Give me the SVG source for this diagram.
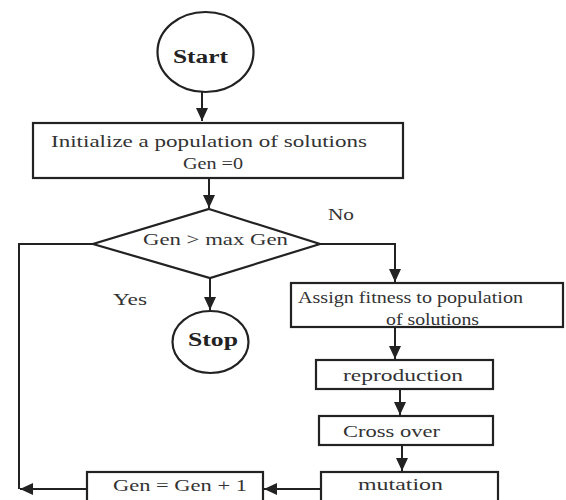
<svg xmlns="http://www.w3.org/2000/svg" width="566" height="500" viewBox="0 0 566 500">
<style>
.shape{fill:#fff;stroke:#222;stroke-width:2.2}
.conn{fill:none;stroke:#222;stroke-width:2}
text{font-family:"Liberation Serif","Times New Roman",serif;font-size:17px;fill:#333}
.b{font-weight:bold;font-size:18px;fill:#222}
</style>
<defs>
<marker id="arr" markerUnits="userSpaceOnUse" markerWidth="14" markerHeight="14" viewBox="0 0 14 14" refX="13" refY="7" orient="auto">
<path d="M0,1 L13,7 L0,13 Z" fill="#222"/>
</marker>
</defs>
<rect width="566" height="500" fill="#fff"/>
<g id="connectors">
<path class="conn" d="M202,92 V121" marker-end="url(#arr)"/>
<path class="conn" d="M209,178 V208" marker-end="url(#arr)"/>
<path class="conn" d="M320,244 H395 V282" marker-end="url(#arr)"/>
<path class="conn" d="M210,278 V310" marker-end="url(#arr)"/>
<path class="conn" d="M395,327 V359" marker-end="url(#arr)"/>
<path class="conn" d="M400,389 V415" marker-end="url(#arr)"/>
<path class="conn" d="M402,445 V471" marker-end="url(#arr)"/>
<path class="conn" d="M321,489 H264" marker-end="url(#arr)"/>
<path class="conn" d="M87,489 H20" marker-end="url(#arr)"/>
<path class="conn" d="M93,244 H19 V489"/>
</g>
<g id="start">
<ellipse class="shape" cx="205.5" cy="52" rx="48" ry="40"/>
<text class="b" x="173" y="63" textLength="55" lengthAdjust="spacingAndGlyphs">Start</text>
</g>
<g id="init">
<rect class="shape" x="33" y="123" width="370" height="55"/>
<text x="51" y="147" textLength="316" lengthAdjust="spacingAndGlyphs">Initialize a population of solutions</text>
<text x="183" y="169" textLength="60" lengthAdjust="spacingAndGlyphs">Gen =0</text>
</g>
<g id="decision">
<polygon class="shape" points="209,209 320,244 210,278 93,244"/>
<text x="143" y="245" textLength="145" lengthAdjust="spacingAndGlyphs">Gen &gt; max Gen</text>
</g>
<g id="label-no">
<text x="328" y="220" textLength="26" lengthAdjust="spacingAndGlyphs">No</text>
</g>
<g id="label-yes">
<text x="113" y="305" textLength="34" lengthAdjust="spacingAndGlyphs">Yes</text>
</g>
<g id="stop">
<ellipse class="shape" cx="210.5" cy="342" rx="38" ry="31"/>
<text class="b" x="188" y="346" textLength="50" lengthAdjust="spacingAndGlyphs">Stop</text>
</g>
<g id="assign">
<rect class="shape" x="291" y="283" width="272" height="44"/>
<text x="298" y="303" textLength="225" lengthAdjust="spacingAndGlyphs">Assign fitness to population</text>
<text x="386" y="325" textLength="93" lengthAdjust="spacingAndGlyphs">of solutions</text>
</g>
<g id="reproduction">
<rect class="shape" x="316" y="360" width="177" height="29"/>
<text x="343" y="381" textLength="120" lengthAdjust="spacingAndGlyphs">reproduction</text>
</g>
<g id="crossover">
<rect class="shape" x="319" y="416" width="174" height="29"/>
<text x="343" y="437" textLength="97" lengthAdjust="spacingAndGlyphs">Cross over</text>
</g>
<g id="mutation">
<rect class="shape" x="321" y="472" width="177" height="34"/>
<text x="358" y="490" textLength="85" lengthAdjust="spacingAndGlyphs">mutation</text>
</g>
<g id="increment">
<rect class="shape" x="87" y="472" width="176" height="34"/>
<text x="113" y="491" textLength="134" lengthAdjust="spacingAndGlyphs">Gen = Gen + 1</text>
</g>
</svg>
